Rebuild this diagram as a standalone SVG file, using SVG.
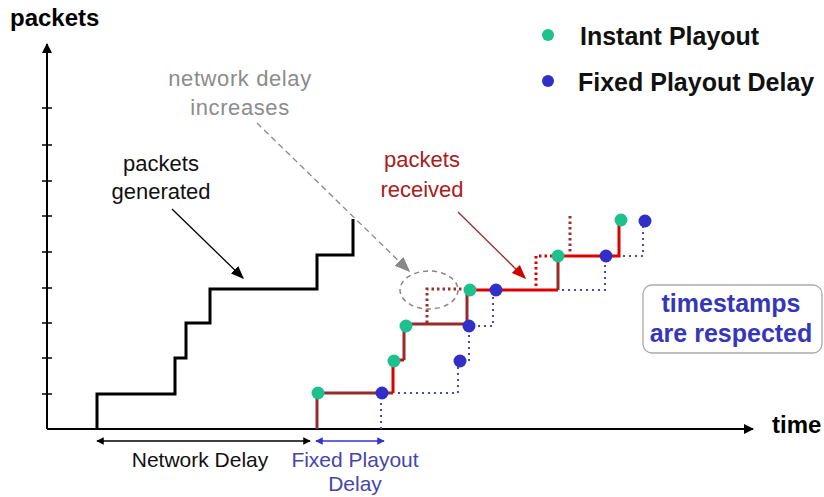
<svg xmlns="http://www.w3.org/2000/svg" width="824" height="497" viewBox="0 0 824 497">
<defs>
<style>
text{font-family:"Liberation Sans",Arial,sans-serif}
.ax{stroke:#000;stroke-width:2;fill:none}
.tick{stroke:#000;stroke-width:1.5}
.gen{stroke:#000;stroke-width:3;fill:none;stroke-linejoin:miter}
.rcv{stroke:#dd0000;stroke-width:3;fill:none}
.rcvd{stroke:#992a2a;stroke-width:3;fill:none}
.dotr{stroke:#dd0000;stroke-width:3;fill:none;stroke-dasharray:2.5 3}
.dotd{stroke:#993030;stroke-width:3;fill:none;stroke-dasharray:2.5 3}
.dotb{stroke:#4a4aa8;stroke-width:2;fill:none;stroke-dasharray:2 4}
.teal{fill:#1ec08e}
.blue{fill:#3030c8}
.lbl{font-size:22px;text-anchor:middle}
</style>
<marker id="ak" viewBox="0 0 10 10" refX="9" refY="5" markerWidth="5" markerHeight="5" orient="auto-start-reverse"><path d="M0,0 L10,5 L0,10 z" fill="#000"/></marker>
<marker id="ag" viewBox="0 0 10 10" refX="9" refY="5" markerWidth="12" markerHeight="12" orient="auto"><path d="M0,1 L10,5 L0,9 z" fill="#888"/></marker>
<marker id="ar" viewBox="0 0 10 10" refX="9" refY="5" markerWidth="11" markerHeight="11" orient="auto"><path d="M0,1 L10,5 L0,9 z" fill="#d00000"/></marker>
<marker id="ab" viewBox="0 0 10 10" refX="9" refY="5" markerWidth="5" markerHeight="5" orient="auto-start-reverse"><path d="M0,0 L10,5 L0,10 z" fill="#3333cc"/></marker>
<marker id="agn" viewBox="0 0 10 10" refX="9" refY="5" markerWidth="10" markerHeight="10" orient="auto"><path d="M0,1 L10,5 L0,9 z" fill="#000"/></marker>
</defs>
<rect width="824" height="497" fill="#fff"/>

<g id="axes">
<line class="ax" x1="47" y1="429" x2="47" y2="44" marker-end="url(#ak)"/>
<line class="ax" x1="47" y1="429" x2="753" y2="429" marker-end="url(#ak)"/>
<g class="tick">
<line x1="42" y1="394" x2="52" y2="394"/>
<line x1="42" y1="358" x2="52" y2="358"/>
<line x1="42" y1="323" x2="52" y2="323"/>
<line x1="42" y1="288" x2="52" y2="288"/>
<line x1="42" y1="252" x2="52" y2="252"/>
<line x1="42" y1="216" x2="52" y2="216"/>
<line x1="42" y1="181" x2="52" y2="181"/>
<line x1="42" y1="145" x2="52" y2="145"/>
<line x1="42" y1="108" x2="52" y2="108"/>
</g>
<text x="10" y="26" font-size="24" font-weight="bold">packets</text>
<text x="772" y="433" font-size="24" font-weight="bold">time</text>
</g>

<g id="generated-curve">
<path class="gen" d="M97,429 V394 H175 V358 H186 V323 H210 V289 H317 V255 H353 V219"/>
</g>

<g id="playout-curves">
<path class="dotb" d="M381,429 V394"/>
<path class="dotb" d="M398,393 H458 V363"/>
<path class="dotb" d="M469,361 V328"/>
<path class="dotb" d="M478,326 H493 V293"/>
<path class="dotb" d="M562,290 H605 V259"/>
<path class="dotb" d="M623,256 H643 V224"/>
<path class="dotd" d="M427,323 V289 H466"/>
<path class="dotr" d="M536,286 V256 H556"/>
<path class="dotd" d="M570,216 V252"/>
<path class="rcvd" d="M317,429 V393 H393"/>
<path class="rcv" d="M393,393 V360 H404"/>
<path class="rcvd" d="M404,360 V324 H467 V290"/>
<path class="rcv" d="M467,290 H558"/>
<path class="rcvd" d="M558,290 V256"/>
<path class="rcv" d="M558,256 H619 V220"/>
<ellipse cx="429" cy="290" rx="29" ry="19" fill="none" stroke="#888" stroke-width="1.5" stroke-dasharray="5 4"/>
</g>

<g id="points">
<circle class="teal" cx="318" cy="393" r="6.5"/>
<circle class="teal" cx="394" cy="361" r="6.5"/>
<circle class="teal" cx="406" cy="326" r="6.5"/>
<circle class="teal" cx="470" cy="290" r="6.5"/>
<circle class="teal" cx="558" cy="256" r="6.5"/>
<circle class="teal" cx="621" cy="220" r="6.5"/>
<circle class="blue" cx="382" cy="393" r="6.5"/>
<circle class="blue" cx="460" cy="361" r="6.5"/>
<circle class="blue" cx="469" cy="326" r="6.5"/>
<circle class="blue" cx="496" cy="290" r="6.5"/>
<circle class="blue" cx="606" cy="256" r="6.5"/>
<circle class="blue" cx="645" cy="221" r="6.5"/>
</g>

<g id="connectors">
<line x1="172" y1="209" x2="243" y2="278" stroke="#000" stroke-width="1.3" marker-end="url(#agn)"/>
<line x1="257" y1="123" x2="409" y2="271" stroke="#888" stroke-width="1.3" stroke-dasharray="6 4" marker-end="url(#ag)"/>
<line x1="458" y1="212" x2="525" y2="278" stroke="#a02828" stroke-width="1.3" marker-end="url(#ar)"/>
<line x1="97" y1="441" x2="310" y2="441" stroke="#000" stroke-width="1.5" marker-start="url(#ak)" marker-end="url(#ak)"/>
<line x1="316" y1="441" x2="384" y2="441" stroke="#3333cc" stroke-width="1.5" marker-start="url(#ab)" marker-end="url(#ab)"/>
</g>

<g id="label-network-delay-increases" fill="#8c8c8c">
<text class="lbl" x="240" y="86" letter-spacing="0.6">network delay</text>
<text class="lbl" x="240" y="115" letter-spacing="0.6">increases</text>
</g>
<g id="label-packets-generated" fill="#111">
<text class="lbl" x="161" y="171">packets</text>
<text class="lbl" x="161" y="199">generated</text>
</g>
<g id="label-packets-received" fill="#a82020">
<text class="lbl" x="422" y="167">packets</text>
<text class="lbl" x="422" y="197">received</text>
</g>
<g id="label-network-delay" fill="#111">
<text x="200" y="467" font-size="21" text-anchor="middle">Network Delay</text>
</g>
<g id="label-fixed-playout-delay" fill="#4646aa">
<text x="355" y="467" font-size="21" text-anchor="middle">Fixed Playout</text>
<text x="355" y="491" font-size="21" text-anchor="middle">Delay</text>
</g>

<g id="legend">
<circle class="teal" cx="548" cy="35" r="6"/>
<text x="580" y="45" font-size="25" font-weight="bold" fill="#111">Instant Playout</text>
<circle class="blue" cx="548" cy="81" r="6"/>
<text x="578" y="91" font-size="25" font-weight="bold" fill="#111">Fixed Playout Delay</text>
</g>

<g id="timestamps-note">
<rect x="643" y="285" width="179" height="68" rx="9" fill="#fff" stroke="#aaa" stroke-width="1.3"/>
<text x="731" y="312" font-size="25" font-weight="bold" fill="#3636b8" text-anchor="middle">timestamps</text>
<text x="731" y="342" font-size="25" font-weight="bold" fill="#3636b8" text-anchor="middle">are respected</text>
</g>
</svg>
